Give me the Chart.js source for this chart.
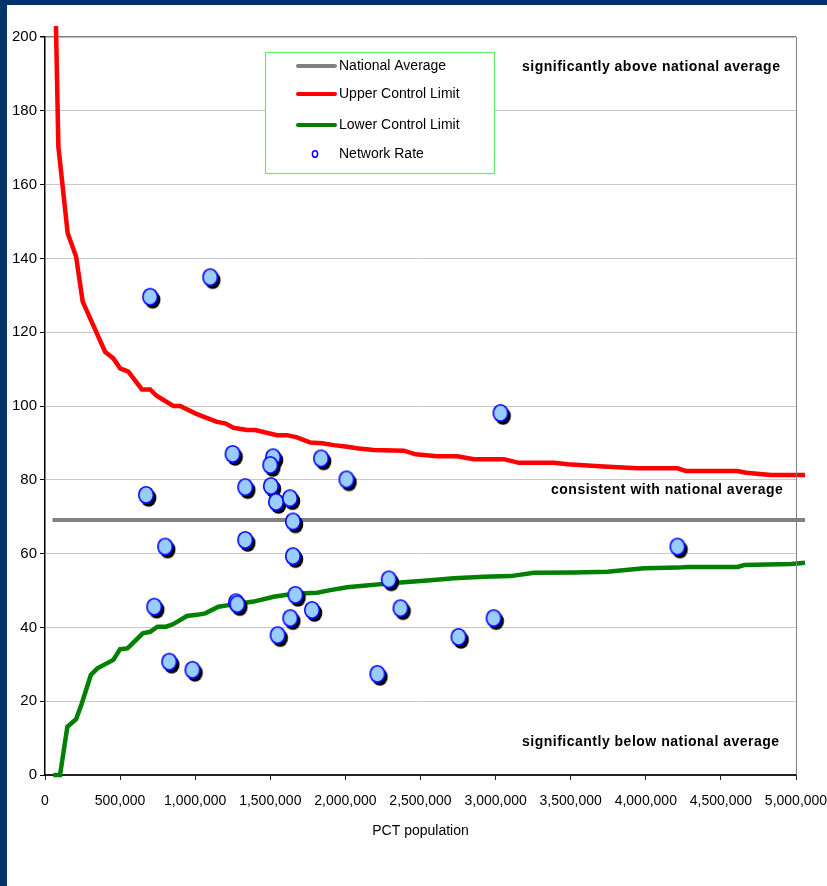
<!DOCTYPE html>
<html>
<head>
<meta charset="utf-8">
<script src="https://cdn.jsdelivr.net/npm/chart.js@4.4.0/dist/chart.umd.min.js"></script>
<style>
  html, body { margin: 0; padding: 0; background: #003468; }
  #wrap { position: absolute; left: 7px; top: 5px; width: 820px; height: 881px; background: #fff; }
</style>
</head>
<body>
<div id="wrap"><canvas id="chart"></canvas></div>
<script>
// network rates (PCT population, rate)
const netX = [700000, 1100000, 1249000, 1518000, 1500000, 1838000, 2007000, 673000, 1333000, 1504000,
              1538000, 1631000, 1651000, 800000, 1333000, 1651000, 727000, 1272000, 1280000, 1667000,
              1778000, 1633000, 1549000, 827000, 982000, 2289000, 2367000, 2753000, 2213000, 2987000,
              3033000, 4211000];
const netY = [129.6, 134.9, 87.0, 86.1, 84.0, 85.8, 80.1, 75.9, 78.0, 78.3,
              74.0, 75.0, 68.7, 61.9, 63.7, 59.3, 45.6, 46.8, 46.3, 48.8,
              44.7, 42.5, 37.9, 30.7, 28.5, 53.0, 45.2, 37.4, 27.4, 42.5,
              98.1, 61.9];

// upper control limit
const uclX = [73000, 89000, 151000, 207000, 251000, 400000, 455000, 500000, 555000, 645000,
              700000, 745000, 855000, 900000, 1000000, 1067000, 1145000, 1200000, 1255000, 1345000,
              1400000, 1545000, 1611000, 1678000, 1767000, 1845000, 1922000, 2000000, 2089000, 2189000,
              2389000, 2467000, 2611000, 2745000, 2855000, 3055000, 3155000, 3389000, 3478000, 3720000,
              3945000, 4211000, 4267000, 4611000, 4667000, 4833000, 5060000];
const uclY = [203, 170.3, 146.8, 140.5, 128.3, 114.7, 112.9, 110.2, 109.3, 104.5,
              104.5, 102.7, 100.0, 100.0, 98.0, 96.9, 95.7, 95.3, 94.1, 93.5,
              93.5, 92.1, 92.1, 91.5, 90.1, 89.9, 89.4, 89.0, 88.5, 88.1,
              87.9, 86.9, 86.4, 86.4, 85.6, 85.6, 84.6, 84.6, 84.2, 83.6,
              83.1, 83.1, 82.4, 82.4, 81.9, 81.3, 81.3];

// lower control limit
const lclX = [55000, 100000, 149000, 207000, 245000, 305000, 349000, 455000, 500000, 549000,
              651000, 700000, 749000, 807000, 855000, 945000, 1011000, 1067000, 1155000, 1233000,
              1389000, 1522000, 1655000, 1811000, 1900000, 2011000, 2100000, 2367000, 2545000, 2722000,
              2922000, 3100000, 3255000, 3522000, 3745000, 3989000, 4211000, 4278000, 4611000, 4655000,
              4967000, 5060000];
const lclY = [0, 0, 13.1, 15.1, 19.4, 27.1, 28.9, 31.2, 34.1, 34.3,
              38.4, 38.8, 40.2, 40.2, 40.9, 43.1, 43.4, 43.8, 45.6, 46.1,
              47.0, 48.3, 49.1, 49.4, 50.1, 50.9, 51.2, 52.2, 52.7, 53.3,
              53.7, 53.9, 54.8, 54.9, 55.1, 56.0, 56.2, 56.4, 56.4, 56.9,
              57.2, 57.5];

// national average
const navX = [50000, 5060000];
const navY = [69.1, 69.1];

const legendLabels = ['National Average', 'Upper Control Limit', 'Lower Control Limit', 'Network Rate'];
const regionLabels = ['significantly above national average', 'consistent with national average', 'significantly below national average'];

const FONT = '"Liberation Sans", Arial, sans-serif';

function pairs(xs, ys) {
    return xs.map((x, i) => ({ x: x, y: ys[i] }));
}

// marker: light blue ellipse with a black drop shadow
function makeMarker() {
    const c = document.createElement('canvas');
    c.width = 32; c.height = 32;
    const g = c.getContext('2d');
    g.fillStyle = '#000';
    g.beginPath();
    g.ellipse(18.5, 19, 7.8, 8.8, 0, 0, Math.PI * 2);
    g.fill();
    g.fillStyle = '#99ccff';
    g.strokeStyle = '#0000ff';
    g.lineWidth = 1.6;
    g.beginPath();
    g.ellipse(16, 16, 7.3, 8.3, 0, 0, Math.PI * 2);
    g.fill();
    g.stroke();
    return c;
}

// legend box, region notes and right frame line
const decorations = {
    id: 'decorations',
    afterDraw(chart) {
        const ctx = chart.ctx;
        const area = chart.chartArea;
        ctx.save();

        // right border of plot area
        ctx.strokeStyle = '#808080';
        ctx.lineWidth = 1;
        ctx.beginPath();
        ctx.moveTo(area.right + 0.5, area.top);
        ctx.lineTo(area.right + 0.5, area.bottom);
        ctx.stroke();

        // legend
        const lx = 258, ly = 47;
        ctx.fillStyle = '#fff';
        ctx.fillRect(lx, ly, 229, 121);
        ctx.strokeStyle = '#66ee66';
        ctx.lineWidth = 1.2;
        ctx.strokeRect(lx + 0.5, ly + 0.5, 229, 121);

        const rowY = [61, 89, 120, 149];
        const colors = ['#808080', '#ff0000', '#008000'];
        ctx.lineCap = 'round';
        for (let i = 0; i < 3; i++) {
            ctx.strokeStyle = colors[i];
            ctx.lineWidth = 4;
            ctx.beginPath();
            ctx.moveTo(291, rowY[i]);
            ctx.lineTo(328, rowY[i]);
            ctx.stroke();
        }
        ctx.fillStyle = '#fff';
        ctx.strokeStyle = '#0000ff';
        ctx.lineWidth = 1.5;
        ctx.beginPath();
        ctx.ellipse(308, rowY[3], 2.6, 3.2, 0, 0, Math.PI * 2);
        ctx.fill();
        ctx.stroke();

        ctx.fillStyle = '#000';
        ctx.font = '14px ' + FONT;
        ctx.textAlign = 'left';
        ctx.textBaseline = 'middle';
        legendLabels.forEach((t, i) => ctx.fillText(t, 332, rowY[i]));

        // region notes
        ctx.font = 'bold 14px ' + FONT;
        ctx.letterSpacing = '0.5px';
        ctx.fillText(regionLabels[0], 515, 62);
        ctx.fillText(regionLabels[1], 544, 485);
        ctx.fillText(regionLabels[2], 515, 737);
        ctx.restore();
    }
};

const ctx = document.getElementById('chart').getContext('2d');
new Chart(ctx, {
    type: 'line',
    data: {
        datasets: [
            {
                label: 'Network Rate',
                data: pairs(netX, netY),
                showLine: false,
                pointStyle: makeMarker(),
                pointRadius: 8,
                order: 0
            },
            {
                label: 'Upper Control Limit',
                data: pairs(uclX, uclY),
                borderColor: '#ff0000',
                borderWidth: 4.5,
                pointRadius: 0,
                tension: 0,
                clip: false,
                order: 1
            },
            {
                label: 'Lower Control Limit',
                data: pairs(lclX, lclY),
                borderColor: '#008000',
                borderWidth: 4.5,
                pointRadius: 0,
                tension: 0,
                clip: false,
                order: 2
            },
            {
                label: 'National Average',
                data: pairs(navX, navY),
                borderColor: '#808080',
                borderWidth: 4,
                pointRadius: 0,
                clip: false,
                order: 3
            }
        ]
    },
    options: {
        responsive: true,
        maintainAspectRatio: false,
        animation: false,
        events: [],
        layout: {
            padding: { top: 32, left: 0, right: 31, bottom: 42 }
        },
        plugins: {
            legend: { display: false },
            tooltip: { enabled: false }
        },
        scales: {
            x: {
                type: 'linear',
                min: 0,
                max: 5000000,
                afterFit: function(scale) {
                    scale.height = 69;
                    scale.paddingLeft = 0;
                    scale.paddingRight = 0;
                },
                border: { color: '#222', width: 2 },
                grid: {
                    drawOnChartArea: false,
                    tickLength: 5,
                    tickColor: '#222'
                },
                ticks: {
                    stepSize: 500000,
                    padding: 13,
                    color: '#000',
                    maxRotation: 0,
                    font: { family: FONT, size: 14 },
                    callback: function(value) {
                        return value.toLocaleString('en-US');
                    }
                },
                title: {
                    display: true,
                    text: 'PCT population',
                    color: '#000',
                    font: { family: FONT, size: 14 }
                }
            },
            y: {
                min: 0,
                max: 200,
                afterFit: function(scale) { scale.width = 38; },
                border: { color: '#000', width: 1.5 },
                grid: {
                    color: function(c) {
                        return c.tick && c.tick.value === 200 ? '#808080' : '#c8c8c8';
                    },
                    lineWidth: function(c) {
                        return c.tick && c.tick.value === 200 ? 1.5 : 1;
                    },
                    tickLength: 5,
                    tickColor: '#000'
                },
                ticks: {
                    stepSize: 20,
                    padding: 3,
                    color: '#000',
                    font: { family: FONT, size: 15 }
                }
            }
        }
    },
    plugins: [decorations]
});
</script>
</body>
</html>
